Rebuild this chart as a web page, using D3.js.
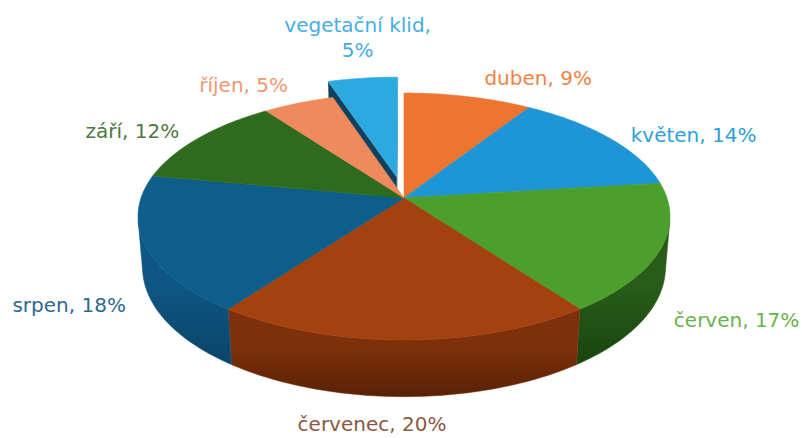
<!DOCTYPE html>
<html>
<head>
<meta charset="utf-8">
<script src="https://cdn.jsdelivr.net/npm/d3@7"></script>
<style>
  body { margin: 0; background: #ffffff; }
  svg { display: block; }
  text { font-family: "DejaVu Sans", "Liberation Sans", sans-serif; font-size: 20px; }
</style>
</head>
<body>
<svg id="chart" width="802" height="438"></svg>
<script>
// Share of the year by period (percent)
const months = ["duben", "květen", "červen", "červenec", "srpen", "září", "říjen", "vegetační klid"];
const shares = [9, 14, 17, 20, 18, 12, 5, 5];
const pulledOut = ["vegetační klid"];

// Palette: top faces, side walls (upper / lower tone), label text
const topColors   = ["#EE7530", "#1E95D5", "#4C9F2C", "#A3420F", "#0E5E8C", "#2F6B1F", "#EF8A5C", "#2DA9E2"];
const sideLight   = ["#B8561F", "#16709F", "#285C18", "#7E300A", "#0E5683", "#214C15", "#B86440", "#1D5F85"];
const sideDark    = ["#8A3E14", "#0F5276", "#1A4410", "#572205", "#0A4468", "#16380E", "#8A4A2E", "#13405C"];
const labelColors = ["#EF8246", "#2F9FD9", "#68B24E", "#8A5844", "#2E6A90", "#4E7643", "#EE9870", "#45AEE2"];
// label anchor shift from the slice's rim point (px)
const labelShift  = [[70, -12], [84, 4], [76, 78], [-32, 91], [-76, 67], [-66, 0], [-55, -11], [-5, -21]];

// ---- perspective projection of the disc ----
const cx = 404, cy = 198;          // projected centre of the disc
const A = 263, B = 120.7, k = 0.1496;
const sinE = B / A, cosE = Math.sqrt(1 - sinE * sinE), D = cosE / k;
const thickness = 0.221;           // disc height in radius units
const explode = 0.18;

function project(x, z, h) {        // x right, z toward viewer, h up
  const depth = 1 - (h * sinE + z * cosE) / D;
  return [cx + A * x / depth, cy + A * (z * sinE - h * cosE) / depth];
}
function rim(theta, r, off, h) {   // theta clockwise from 12 o'clock
  return project(off[0] + r * Math.sin(theta), off[1] - r * Math.cos(theta), h);
}

const svg = d3.select("#chart");
const defs = svg.append("defs");
const line = d3.line();

const arcs = d3.pie().sort(null).value(d => d)(shares).map((a, i) => {
  const mid = (a.startAngle + a.endAngle) / 2;
  const out = pulledOut.includes(months[i]) ? explode : 0;
  return { ...a, i, mid, off: [out * Math.sin(mid), -out * Math.cos(mid)], out };
});

function samples(a0, a1) {
  const n = Math.max(2, Math.ceil((a1 - a0) / (Math.PI / 180)));
  return d3.range(n + 1).map(j => a0 + (a1 - a0) * j / n);
}

// side walls face the camera where z > 1/(D*cosE)
const zMin = 1 / (D * cosE);
const vis0 = Math.acos(-zMin), vis1 = 2 * Math.PI - vis0;

arcs.forEach(a => {
  const g = defs.append("linearGradient").attr("id", "side" + a.i)
    .attr("x1", 0).attr("y1", 0).attr("x2", 0).attr("y2", 1);
  g.append("stop").attr("offset", 0).attr("stop-color", sideLight[a.i]);
  g.append("stop").attr("offset", 0.45).attr("stop-color", sideLight[a.i]);
  g.append("stop").attr("offset", 1).attr("stop-color", sideDark[a.i]);
});

function drawSlice(layer, a) {
  const c0 = rim(0, 0, a.off, 0), cb = rim(0, 0, a.off, -thickness);
  // radial walls (only seen on the pulled-out slice)
  if (a.out > 0) {
    [[a.startAngle, sideDark[a.i]], [a.endAngle, sideLight[a.i]]].forEach(([t, col]) => {
      layer.append("path")
        .attr("d", line([c0, rim(t, 1, a.off, 0), rim(t, 1, a.off, -thickness), cb]) + "Z")
        .attr("fill", col);
    });
  }
  // outer wall
  const s0 = Math.max(a.startAngle, vis0), s1 = Math.min(a.endAngle, vis1);
  if (s1 > s0) {
    const ts = samples(s0, s1);
    const pts = ts.map(t => rim(t, 1, a.off, 0))
      .concat(ts.slice().reverse().map(t => rim(t, 1, a.off, -thickness)));
    layer.append("path").attr("d", line(pts) + "Z")
      .attr("fill", `url(#side${a.i})`)
      .attr("stroke", sideLight[a.i]).attr("stroke-width", 0.5);
  }
}

function drawTop(layer, a) {
  const pts = [rim(0, 0, a.off, 0)].concat(samples(a.startAngle, a.endAngle).map(t => rim(t, 1, a.off, 0)));
  layer.append("path").attr("d", line(pts) + "Z")
    .attr("fill", topColors[a.i])
    .attr("stroke", topColors[a.i]).attr("stroke-width", 0.6).attr("stroke-linejoin", "round");
}

const pie = svg.append("g");
// pulled-out slice sits behind the rest
const back = arcs.filter(a => a.out > 0), main = arcs.filter(a => a.out === 0);
back.forEach(a => { drawSlice(pie, a); drawTop(pie, a); });
main.forEach(a => drawSlice(pie, a));
main.forEach(a => drawTop(pie, a));

// ---- labels ----
const labels = svg.append("g").attr("text-anchor", "middle");
arcs.forEach(a => {
  const p = rim(a.mid, 1 + a.out, [0, 0], 0);
  const x = p[0] + labelShift[a.i][0], y = p[1] + labelShift[a.i][1];
  const name = months[a.i], pct = shares[a.i] + "%";
  const lines = name.includes(" ") ? [name + ",", pct] : [name + ", " + pct];
  const t = labels.append("text").attr("fill", labelColors[a.i]);
  lines.forEach((l, j) => {
    t.append("tspan").attr("x", x).attr("y", y - (lines.length - 1 - j) * 25).text(l);
  });
});
</script>
</body>
</html>
